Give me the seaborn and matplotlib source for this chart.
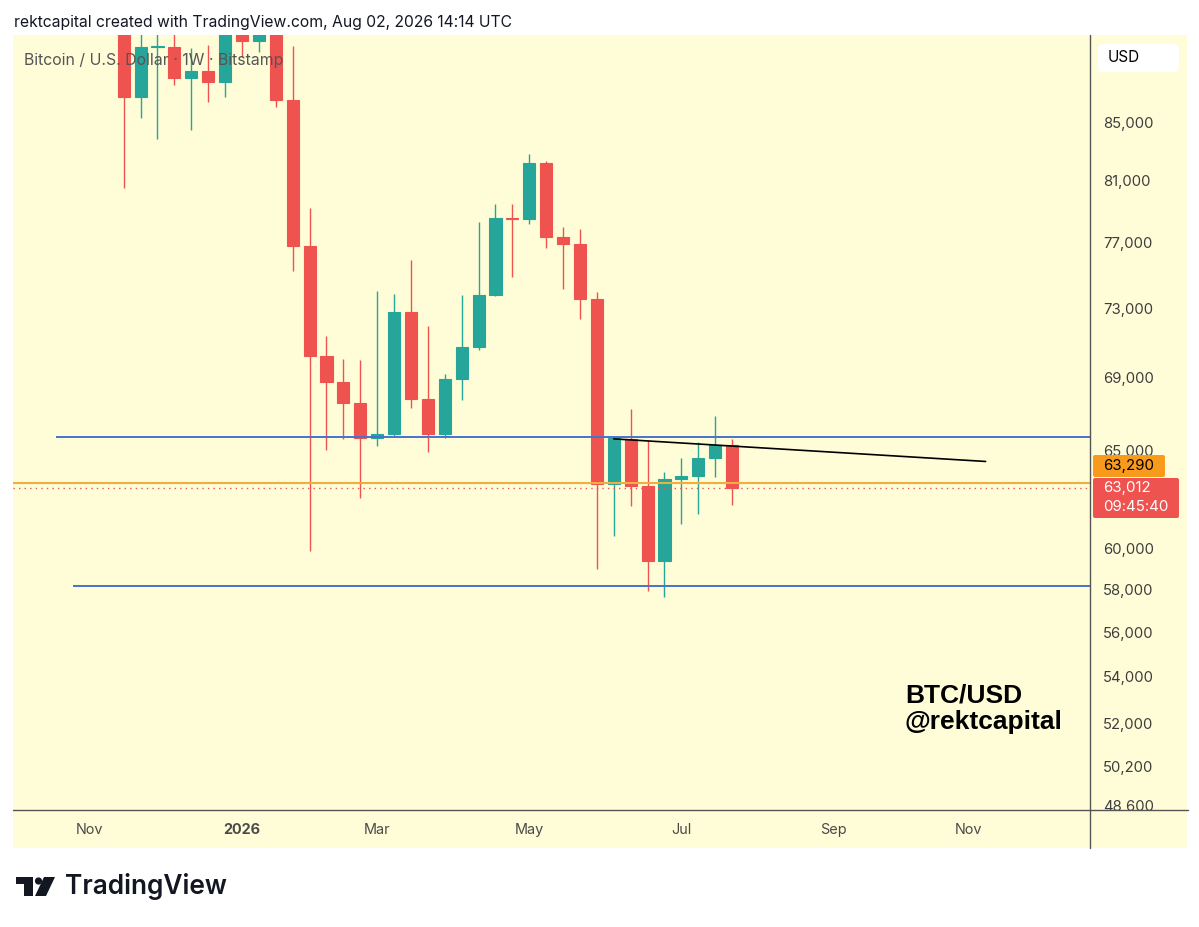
import pandas as pd
import numpy as np
import matplotlib
matplotlib.use("Agg")
import matplotlib.pyplot as plt
import matplotlib.transforms as mtransforms
from matplotlib.patches import Rectangle, FancyBboxPatch, Polygon, Circle
from matplotlib.lines import Line2D
from matplotlib.ticker import NullLocator, FixedLocator
import seaborn as sns

# --- Dados semanais (BTC/USD, 1W, Bitstamp) ---
semanas = ['2025-11-17', '2025-11-24', '2025-12-01', '2025-12-08', '2025-12-15',
           '2025-12-22', '2025-12-29', '2026-01-05', '2026-01-12', '2026-01-19',
           '2026-01-26', '2026-02-02', '2026-02-09', '2026-02-16', '2026-02-23',
           '2026-03-02', '2026-03-09', '2026-03-16', '2026-03-23', '2026-03-30',
           '2026-04-06', '2026-04-13', '2026-04-20', '2026-04-27', '2026-05-04',
           '2026-05-11', '2026-05-18', '2026-05-25', '2026-06-01', '2026-06-08',
           '2026-06-15', '2026-06-22', '2026-06-29', '2026-07-06', '2026-07-13',
           '2026-07-20', '2026-07-27']
abertura = [95000, 86780, 90380, 90410, 88140, 88640, 87850, 91500, 90850, 92500,
            86540, 76820, 70200, 68720, 67560, 65670, 65880, 72750, 67770, 65850,
            68910, 70690, 73780, 78580, 78500, 82180, 77380, 76950, 73520, 63200,
            65600, 63110, 59380, 63500, 63640, 64600, 65250]
maxima = [97000, 92500, 93500, 92000, 90290, 90520, 94000, 94500, 97000, 93500,
          90480, 79240, 71340, 70010, 69960, 74020, 73840, 75960, 71950, 69200,
          73780, 78350, 79480, 79480, 82810, 82330, 78000, 77870, 73950, 65700,
          67200, 65530, 63840, 64600, 65440, 66850, 65580]
minima = [80530, 85280, 83830, 87610, 84440, 86400, 86740, 89640, 90020, 86050,
          75280, 59870, 65030, 65570, 62480, 65200, 65740, 67280, 64900, 65670,
          67710, 70530, 73720, 74900, 78180, 76660, 74160, 72370, 59000, 60610,
          62120, 57950, 57660, 61170, 61680, 63580, 62140]
fechamento = [86780, 90410, 90450, 88140, 88640, 87850, 91500, 90850, 92500, 86540,
              76820, 70200, 68720, 67560, 65670, 65880, 72750, 67770, 65850, 68910,
              70690, 73780, 78580, 78500, 82180, 77380, 76950, 73520, 63200, 65670,
              63110, 59380, 63500, 63640, 64570, 65290, 63012]

# --- Eixos ---
precos_eixo = [85000, 81000, 77000, 73000, 69000, 65000, 60000, 58000,
               56000, 54000, 52000, 50200, 48600]
datas_eixo = ['2025-11-03', '2026-01-05', '2026-03-02', '2026-05-04',
              '2026-07-06', '2026-09-07', '2026-11-02']
rotulos_eixo = ['Nov', '2026', 'Mar', 'May', 'Jul', 'Sep', 'Nov']

# --- Níveis desenhados ---
resistencia = 65700
inicio_resistencia = '2025-10-20'
suporte = 58180
inicio_suporte = '2025-10-27'
nivel_laranja = 63290
preco_atual = 63012
tendencia_datas = ['2026-06-08', '2026-11-09']
tendencia_precos = [65600, 64400]

VERDE = '#26A69A'
VERMELHO = '#EF5350'
FUNDO = '#FFFDD7'
W, H = 1199, 927


def gerar_grafico():
    sns.set_theme(style="white")
    plt.rcParams['font.family'] = ['Inter', 'DejaVu Sans']

    df = pd.DataFrame({'semana': pd.to_datetime(semanas), 'abertura': abertura,
                       'maxima': maxima, 'minima': minima, 'fechamento': fechamento})
    df['cor'] = np.where(df['fechamento'] >= df['abertura'], VERDE, VERMELHO)
    df['base'] = df[['abertura', 'fechamento']].min(axis=1)
    df['corpo'] = (df['fechamento'] - df['abertura']).abs()

    fig = plt.figure(figsize=(W / 100, H / 100), dpi=100)
    fig.patch.set_facecolor('white')
    # transformação em pixels (origem no canto superior esquerdo)
    px = mtransforms.Affine2D().scale(1 / W, -1 / H).translate(0, 1) + fig.transFigure

    # fundo amarelo do painel de preços e da faixa de datas
    fig.patches.append(Rectangle((13, 35), 1174, 813, transform=px,
                                 facecolor=FUNDO, edgecolor='none', zorder=-1))

    ax = fig.add_axes([13 / W, 1 - 810 / H, 1077 / W, 775 / H])
    ax.set_facecolor(FUNDO)
    for s in ax.spines.values():
        s.set_visible(False)

    # velas
    ax.vlines(df['semana'], df['minima'], df['maxima'], colors=df['cor'], lw=1.0, zorder=2)
    ax.bar(df['semana'], df['corpo'], bottom=df['base'], width=5.0, color=df['cor'],
           edgecolor=df['cor'], linewidth=0.8, zorder=3)

    ref = pd.Timestamp('2026-01-05')
    x_min = ref - pd.Timedelta(days=13.55 * 7)
    x_max = ref + pd.Timedelta(days=50.18 * 7)

    # linhas horizontais
    ax.hlines(resistencia, pd.Timestamp(inicio_resistencia), x_max, color='#4A72CC', lw=1.4, zorder=4)
    ax.hlines(suporte, pd.Timestamp(inicio_suporte), x_max, color='#4A72CC', lw=1.4, zorder=4)
    ax.axhline(nivel_laranja, color='#F2AE3D', lw=1.5, zorder=4)
    ax.axhline(preco_atual, color=VERMELHO, lw=1.0, ls=(0, (1, 3)), zorder=4)

    # linha de tendência
    tend = pd.DataFrame({'data': pd.to_datetime(tendencia_datas), 'preco': tendencia_precos})
    sns.lineplot(data=tend, x='data', y='preco', ax=ax, color='black', lw=1.2, zorder=5)

    ax.set_yscale('log')
    ax.set_ylim(48430, 91270)
    ax.set_xlim(x_min, x_max)
    ax.set_xlabel('')
    ax.set_ylabel('')

    ax.yaxis.tick_right()
    ax.yaxis.set_major_locator(FixedLocator(precos_eixo))
    ax.yaxis.set_minor_locator(NullLocator())
    ax.set_yticklabels([f'{p:,}' for p in precos_eixo])
    ax.tick_params(axis='y', length=0, pad=9.5, labelsize=10.7, labelcolor='#3d3d3d')

    ax.set_xticks(pd.to_datetime(datas_eixo))
    ax.set_xticklabels(rotulos_eixo)
    ax.xaxis.set_minor_locator(NullLocator())
    ax.tick_params(axis='x', length=0, pad=9.5, labelsize=10.4, labelcolor='#4a4a4a')
    for t in ax.get_xticklabels():
        if t.get_text() == '2026':
            t.set_fontweight('bold')

    # esconde a parte inferior do rótulo 48,600 (faixa de datas)
    fig.patches.append(Rectangle((1091, 811), 96, 37, transform=px,
                                 facecolor=FUNDO, edgecolor='none', zorder=3))
    # bordas dos eixos
    fig.lines.append(Line2D([13, 1188], [810, 810], transform=px, color='#555555', lw=1.0, zorder=4))
    fig.lines.append(Line2D([1090, 1090], [35, 848], transform=px, color='#555555', lw=1.0, zorder=4))

    # caixa USD
    fig.patches.append(FancyBboxPatch((1098, 44), 81, 28, boxstyle='round,pad=0,rounding_size=5',
                                      transform=px, facecolor='white', edgecolor='none', zorder=4))
    fig.text(1108, 58, 'USD', transform=px, fontsize=11, color='black', va='center', zorder=5)

    # etiquetas de preço
    fig.patches.append(FancyBboxPatch((1093, 455), 72, 22, boxstyle='round,pad=0,rounding_size=2',
                                      transform=px, facecolor='#F89A1C', edgecolor='none', zorder=4))
    fig.text(1103, 466, f'{nivel_laranja:,}', transform=px, fontsize=10.8, color='black',
             va='center', zorder=5)
    fig.patches.append(FancyBboxPatch((1093, 478), 86, 40, boxstyle='round,pad=0,rounding_size=2',
                                      transform=px, facecolor=VERMELHO, edgecolor='none', zorder=4))
    fig.text(1103, 488, f'{preco_atual:,}', transform=px, fontsize=10.8, color='white',
             va='center', zorder=5)
    fig.text(1103, 507, '09:45:40', transform=px, fontsize=10.8, color='white',
             va='center', zorder=5)

    # textos
    fig.text(14, 22, 'rektcapital created with TradingView.com, Aug 02, 2026 14:14 UTC',
             transform=px, fontsize=11.3, color='#131722', va='center')
    ax.text(24, 60, 'Bitcoin / U.S. Dollar · 1W · Bitstamp', transform=px, fontsize=11.4,
            color='#555555', va='center', zorder=10)
    fig.text(905, 684, 'BTC/USD\n@rektcapital', transform=px, fontsize=19, fontweight='bold',
             family=['Liberation Sans', 'DejaVu Sans'], color='black', va='top',
             linespacing=1.08, zorder=6)

    # logotipo TradingView
    fig.patches.append(Polygon([(16, 877), (33, 877), (33, 896), (24, 896), (24, 884), (16, 884)],
                               closed=True, transform=px, facecolor='#131722', edgecolor='none'))
    fig.patches.append(Circle((38.5, 881), 3.6, transform=px, facecolor='#131722', edgecolor='none'))
    fig.patches.append(Polygon([(44, 877), (55, 877), (46, 896), (35, 896)],
                               closed=True, transform=px, facecolor='#131722', edgecolor='none'))
    fig.text(65, 887, 'TradingView', transform=px, fontsize=18.9, fontweight='semibold',
             color='#131722', va='center')

    fig.savefig('out.png', dpi=100)


if __name__ == '__main__':
    gerar_grafico()
